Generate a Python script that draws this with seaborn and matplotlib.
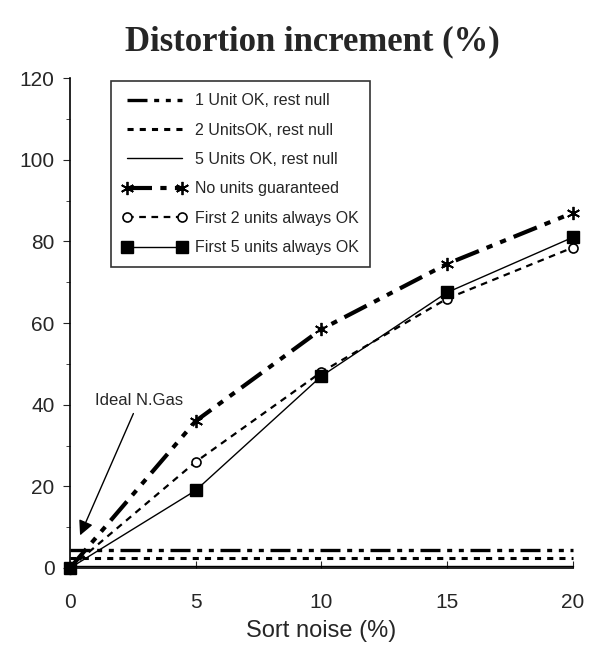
import numpy as np
import pandas as pd
import matplotlib
matplotlib.use("Agg")
import matplotlib.pyplot as plt
import seaborn as sns

# data
noise = [0, 5, 10, 15, 20]
ideal_x = [0, 20]
one_unit_ok = [4.5, 4.5]
two_units_ok = [2.5, 2.5]
five_units_ok = [0.4, 0.4]
no_units = [0, 36, 58.5, 74.5, 87]
first_two = [0, 26, 48, 66, 78.5]
first_five = [0, 19, 47, 67.5, 81]

labels = ["1 Unit OK, rest null", "2 UnitsOK, rest null", "5 Units OK, rest null",
          "No units guaranteed", "First 2 units always OK", "First 5 units always OK"]

sns.set_style("ticks")
plt.rcParams['font.family'] = ['Liberation Sans', 'DejaVu Sans']

fig = plt.figure(figsize=(6.01, 6.61), dpi=100)
ax = fig.add_axes([0.1165, 0.1407, 0.8365, 0.741])

series = [
    (ideal_x, one_unit_ok, dict(lw=2.4, dashes=(6, 2, 1.5, 2, 1.5, 2))),
    (ideal_x, two_units_ok, dict(lw=2.2, dashes=(2, 2))),
    (ideal_x, five_units_ok, dict(lw=1.0)),
    (noise, no_units, dict(lw=3.0, dashes=(6, 2, 1.5, 2, 1.5, 2),
                           marker=(6, 2, 0), markersize=9.5, markeredgewidth=1.3)),
    (noise, first_two, dict(lw=1.6, dashes=(3, 2.5), marker="o", markersize=6.5,
                            markerfacecolor="white", markeredgewidth=1.2)),
    (noise, first_five, dict(lw=1.0, marker="s", markersize=8, markeredgewidth=1.0)),
]

for (xs, ys, kw), lab in zip(series, labels):
    df = pd.DataFrame({"x": xs, "y": ys})
    sns.lineplot(data=df, x="x", y="y", ax=ax, color="black", label=lab,
                 markeredgecolor="black", clip_on=False, **kw)

ax.set_xlim(0, 20)
ax.set_ylim(0, 120)
ax.set_xticks([0, 5, 10, 15, 20])
ax.set_yticks(range(0, 121, 20))
ax.set_yticks(range(10, 120, 20), minor=True)
ax.tick_params(axis="x", direction="in", length=5, labelsize=15, pad=18)
ax.tick_params(axis="y", direction="out", length=5, labelsize=15, pad=6)
ax.tick_params(axis="y", which="minor", direction="out", length=3)
for s in ["top", "right"]:
    ax.spines[s].set_visible(False)
for s in ["left", "bottom"]:
    ax.spines[s].set_color("black")
    ax.spines[s].set_linewidth(1.2)

ax.set_xlabel("Sort noise (%)", fontsize=17, labelpad=6)
ax.set_ylabel("")
fig.suptitle("Distortion increment (%)", fontsize=25, fontweight="bold",
             family=["Liberation Serif", "DejaVu Serif"], x=0.52, y=0.962)

ax.annotate("Ideal N.Gas", xy=(0.4, 8), xytext=(1.0, 40), fontsize=12,
            arrowprops=dict(arrowstyle="-|>", color="black", lw=1.0,
                            mutation_scale=22, shrinkA=2, shrinkB=0))

leg = ax.legend(loc="upper left", bbox_to_anchor=(0.065, 1.01), fontsize=11.5,
                handlelength=4.0, numpoints=2, frameon=True, fancybox=False,
                edgecolor="black", borderpad=0.75, labelspacing=0.9,
                handletextpad=0.5)
leg.get_frame().set_linewidth(1.2)

fig.savefig("out.png", dpi=100)
